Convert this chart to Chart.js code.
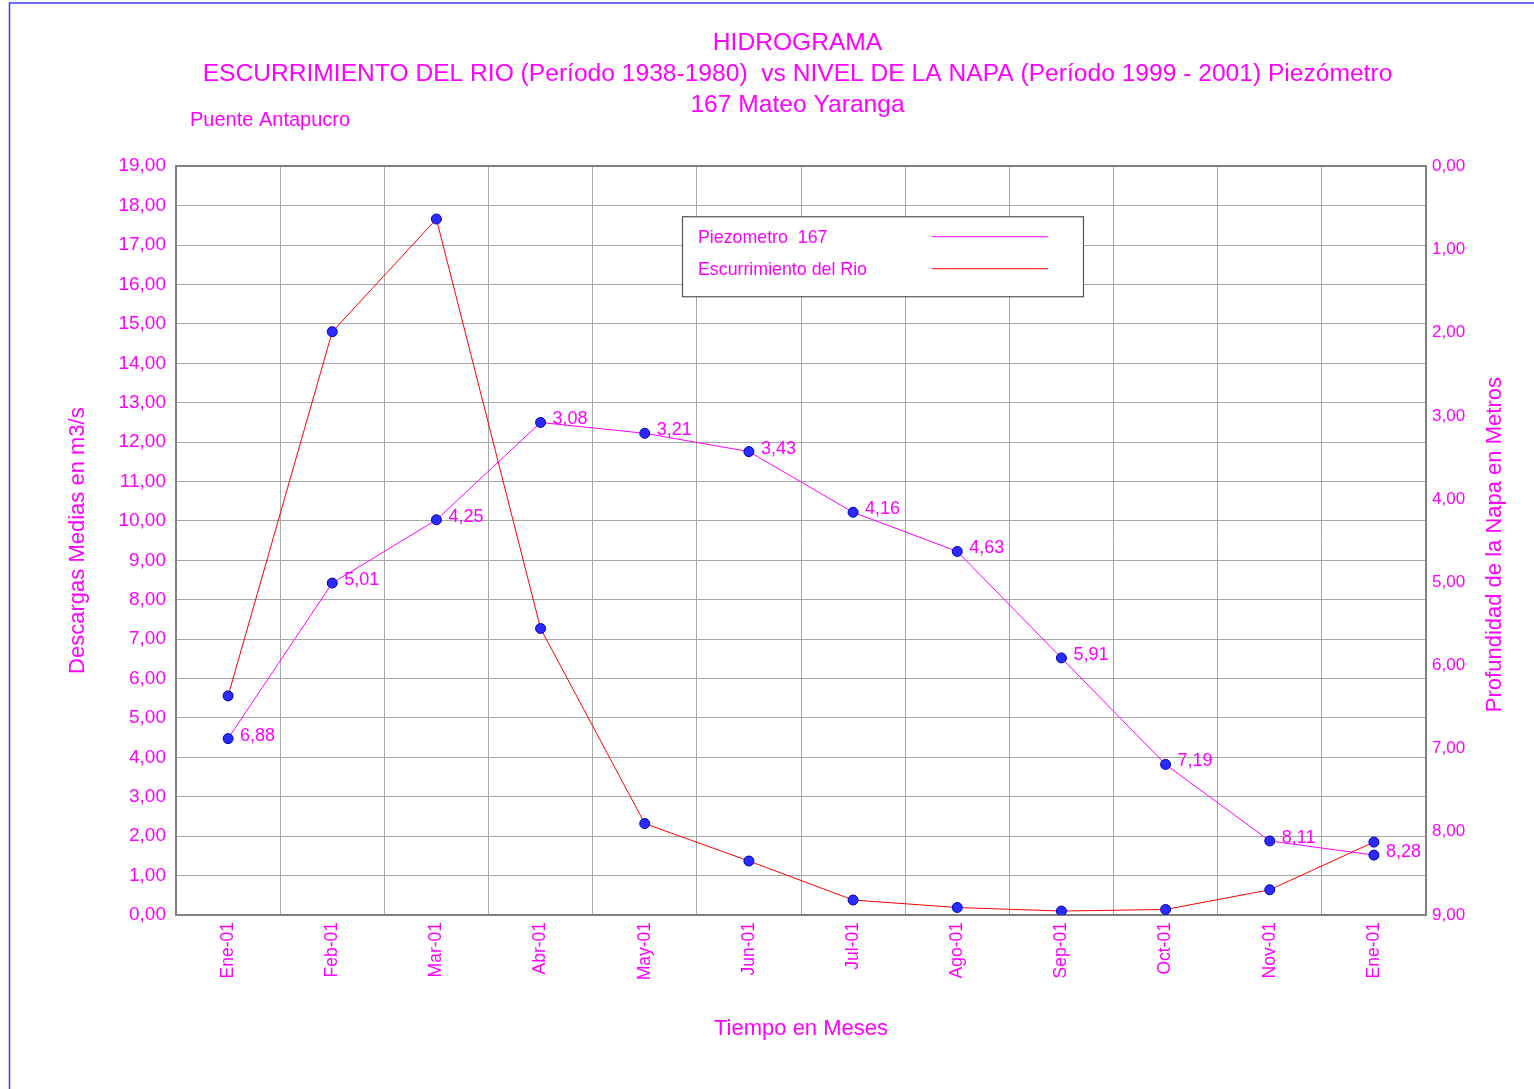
<!DOCTYPE html>
<html>
<head>
<meta charset="utf-8">
<script src="https://cdn.jsdelivr.net/npm/chart.js@4"></script>
<style>
  body { margin: 0; background: #fff; }
  canvas { display: block; }
</style>
</head>
<body>
<canvas id="hidro" width="1534" height="1089"></canvas>
<script>
// meses (Ene-01 se repite al final del ciclo)
const meses = ['Ene-01', 'Feb-01', 'Mar-01', 'Abr-01', 'May-01', 'Jun-01',
  'Jul-01', 'Ago-01', 'Sep-01', 'Oct-01', 'Nov-01', 'Ene-01'];

// descargas medias del rio (m3/s), eje izquierdo
const escurrimiento = [5.56, 14.8, 17.66, 7.27, 2.32, 1.37, 0.38, 0.19, 0.1, 0.14, 0.64, 1.85];

// profundidad de la napa (m), eje derecho invertido
const piezometro = [6.88, 5.01, 4.25, 3.08, 3.21, 3.43, 4.16, 4.63, 5.91, 7.19, 8.11, 8.28];

const titulo = [
  'HIDROGRAMA',
  'ESCURRIMIENTO DEL RIO (Período 1938-1980)  vs NIVEL DE LA NAPA (Período 1999 - 2001) Piezómetro',
  '167 Mateo Yaranga'
];
const subtitulo = 'Puente Antapucro';
const tituloEjeDer = 'Profundidad de la Napa en Metros';

const MAGENTA = '#ff00ff';
const FONT = "'Liberation Sans', Arial, sans-serif";

const fmt = v => Number(v).toFixed(2).replace('.', ',');

// marco azul, subtitulo, titulo eje derecho, etiquetas y leyenda
const extras = {
  id: 'extras',
  beforeDraw(chart) {
    const ctx = chart.ctx;
    ctx.save();
    ctx.strokeStyle = '#3c3cff';
    ctx.lineWidth = 1.5;
    ctx.beginPath();
    ctx.moveTo(9.5, chart.height);
    ctx.lineTo(9.5, 3);
    ctx.lineTo(chart.width, 3);
    ctx.stroke();
    ctx.restore();
  },
  afterDraw(chart) {
    const ctx = chart.ctx;
    const area = chart.chartArea;
    ctx.save();

    // subtitulo
    ctx.fillStyle = MAGENTA;
    ctx.font = '20px ' + FONT;
    ctx.textAlign = 'left';
    ctx.textBaseline = 'middle';
    ctx.fillText(subtitulo, area.left + 14, 120);

    // titulo eje derecho, de abajo hacia arriba
    ctx.save();
    ctx.translate(1495, (area.top + area.bottom) / 2 + 4);
    ctx.rotate(-Math.PI / 2);
    ctx.textAlign = 'center';
    ctx.font = '22px ' + FONT;
    ctx.fillText(tituloEjeDer, 0, 0);
    ctx.restore();

    // etiquetas del piezometro
    const meta = chart.getDatasetMeta(0);
    ctx.font = '18px ' + FONT;
    ctx.textAlign = 'left';
    meta.data.forEach((pt, i) => {
      ctx.fillText(fmt(chart.data.datasets[0].data[i]), pt.x + 12, pt.y - 3);
    });

    // leyenda
    const lx = area.left + 506, ly = area.top + 50, lw = 401, lh = 80;
    ctx.fillStyle = '#fff';
    ctx.fillRect(lx, ly, lw, lh);
    ctx.strokeStyle = '#555';
    ctx.lineWidth = 1.2;
    ctx.strokeRect(lx + 0.5, ly + 0.5, lw, lh);
    ctx.font = '17.8px ' + FONT;
    chart.data.datasets.forEach((ds, i) => {
      const y = ly + 22 + i * 32;
      ctx.fillStyle = MAGENTA;
      ctx.fillText(ds.label, lx + 16, y);
      ctx.strokeStyle = ds.borderColor;
      ctx.lineWidth = 1;
      ctx.beginPath();
      ctx.moveTo(lx + 250, y - 1.5);
      ctx.lineTo(lx + 366, y - 1.5);
      ctx.stroke();
    });
    ctx.restore();
  }
};

new Chart(document.getElementById('hidro'), {
  type: 'line',
  data: {
    labels: meses,
    datasets: [
      {
        label: 'Piezometro  167',
        data: piezometro,
        yAxisID: 'y1',
        borderColor: MAGENTA,
        borderWidth: 1,
        pointRadius: 5,
        pointBackgroundColor: '#2b2bff',
        pointBorderColor: '#0000b0',
        pointBorderWidth: 1,
        tension: 0
      },
      {
        label: 'Escurrimiento del Rio',
        data: escurrimiento,
        yAxisID: 'y',
        borderColor: '#ff0000',
        borderWidth: 1,
        pointRadius: 5,
        pointBackgroundColor: '#2b2bff',
        pointBorderColor: '#0000b0',
        pointBorderWidth: 1,
        tension: 0
      }
    ]
  },
  options: {
    responsive: false,
    animation: false,
    layout: { padding: { left: 61, right: 0, top: 0, bottom: 47 } },
    plugins: {
      legend: { display: false },
      tooltip: { enabled: false },
      title: {
        display: true,
        text: titulo,
        color: MAGENTA,
        font: { family: FONT, size: 24.6, weight: 'normal', lineHeight: 1.27 },
        padding: { top: 27.5, bottom: 45 }
      }
    },
    scales: {
      x: {
        offset: true,
        grid: { offset: true, color: '#a8a8a8', drawTicks: false, tickLength: 0 },
        border: { color: '#808080', width: 2 },
        ticks: {
          color: MAGENTA,
          font: { family: FONT, size: 17.5 },
          maxRotation: 90,
          minRotation: 90,
          padding: 7
        },
        title: {
          display: true,
          text: 'Tiempo en Meses',
          color: MAGENTA,
          font: { family: FONT, size: 22 },
          padding: { top: 4, bottom: 0 }
        },
        afterFit(scale) { scale.height = 127; }
      },
      y: {
        position: 'left',
        min: 0,
        max: 19,
        ticks: {
          stepSize: 1,
          color: MAGENTA,
          font: { family: FONT, size: 19 },
          padding: 10,
          callback: v => fmt(v)
        },
        grid: {
          drawTicks: false,
          tickLength: 0,
          color: ctx => ctx.tick && ctx.tick.value === 19 ? '#808080' : '#a8a8a8',
          lineWidth: ctx => ctx.tick && ctx.tick.value === 19 ? 2 : 1
        },
        border: { color: '#808080', width: 2 },
        title: {
          display: true,
          text: 'Descargas Medias en m3/s',
          color: MAGENTA,
          font: { family: FONT, size: 22 },
          padding: { top: 4, bottom: 0 }
        },
        afterFit(scale) { scale.width = 115; }
      },
      y1: {
        position: 'right',
        reverse: true,
        min: 0,
        max: 9,
        ticks: {
          stepSize: 1,
          color: MAGENTA,
          font: { family: FONT, size: 17 },
          padding: 6,
          callback: v => fmt(v)
        },
        grid: { drawOnChartArea: false, drawTicks: false, tickLength: 0 },
        border: { color: '#808080', width: 2 },
        afterFit(scale) { scale.width = 108; }
      }
    }
  },
  plugins: [extras]
});
</script>
</body>
</html>
